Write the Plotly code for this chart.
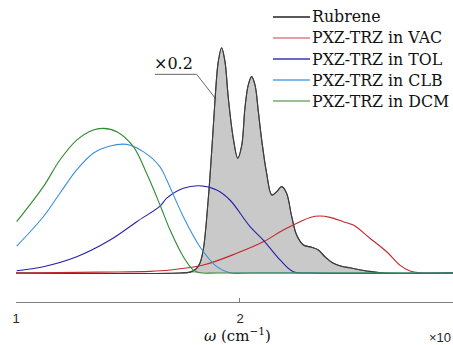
import plotly.graph_objects as go

# wavenumber in units of 10^4 cm^-1, intensities normalised (Rubrene shown x0.2)
rub_x = [1.00, 1.732, 1.777, 1.804, 1.821, 1.836, 1.858, 1.874, 1.888, 1.903, 1.918, 1.933, 1.948,
         1.970, 1.990, 2.008, 2.022, 2.037, 2.052, 2.067, 2.082, 2.097, 2.119, 2.142, 2.164, 2.186,
         2.208, 2.231, 2.253, 2.283, 2.320, 2.350, 2.379, 2.417, 2.461, 2.491, 2.566, 2.640, 2.951]
rub_y = [0.0, 0.0, 0.004, 0.018, 0.043, 0.102, 0.323, 0.544, 0.758, 0.935, 0.997, 0.935, 0.773,
         0.596, 0.508, 0.566, 0.729, 0.832, 0.869, 0.832, 0.714, 0.588, 0.441, 0.345, 0.360, 0.382,
         0.353, 0.249, 0.168, 0.124, 0.114, 0.102, 0.072, 0.043, 0.028, 0.023, 0.009, 0.0, 0.0]

vac_x = [1.00, 1.375, 1.598, 1.688, 1.836, 1.985, 2.104, 2.193, 2.268, 2.313, 2.357, 2.402, 2.461,
         2.506, 2.580, 2.655, 2.714, 2.759, 2.804, 2.951]
vac_y = [0.0, 0.004, 0.007, 0.013, 0.035, 0.087, 0.138, 0.190, 0.227, 0.246, 0.252, 0.246, 0.227,
         0.212, 0.154, 0.094, 0.035, 0.009, 0.001, 0.0]

tol_x = [1.003, 1.122, 1.271, 1.420, 1.539, 1.643, 1.673, 1.747, 1.821, 1.896, 1.955, 2.045, 2.104,
         2.179, 2.238, 2.313, 2.951]
tol_y = [0.010, 0.028, 0.072, 0.146, 0.227, 0.296, 0.331, 0.375, 0.386, 0.367, 0.323, 0.205, 0.146,
         0.058, 0.006, 0.0, 0.0]

clb_x = [1.003, 1.122, 1.196, 1.271, 1.345, 1.420, 1.494, 1.568, 1.643, 1.673, 1.747, 1.821, 1.896,
         1.955, 2.05, 2.951]
clb_y = [0.119, 0.249, 0.353, 0.456, 0.530, 0.562, 0.569, 0.537, 0.470, 0.412, 0.249, 0.116, 0.028,
         0.001, 0.0, 0.0]

dcm_x = [1.003, 1.122, 1.196, 1.271, 1.345, 1.390, 1.450, 1.524, 1.583, 1.643, 1.688, 1.747, 1.792,
         1.821, 1.90, 2.951]
dcm_y = [0.227, 0.382, 0.500, 0.588, 0.633, 0.640, 0.625, 0.559, 0.441, 0.301, 0.190, 0.072, 0.013,
         0.001, 0.0, 0.0]

names = ["Rubrene", "PXZ-TRZ in VAC", "PXZ-TRZ in TOL", "PXZ-TRZ in CLB", "PXZ-TRZ in DCM"]
colors = ["#3c3c3c", "#c4262b", "#2424a8", "#3a8fdc", "#2e8b2e"]
legend_colors = ["#222222", "#d98080", "#3838b0", "#5aa0e0", "#6cb06c"]
tick_vals = [1, 2]
tick_text = ["1", "2"]
x_range = [1.0, 2.951]
y_range = [-0.1283, 1.208]

SERIF = "DejaVu Serif"
SANS = "Liberation Sans"
W, H = 453, 345
ML, MR, MT, MB = 16, 0, 0, 43
PW, PH = W - ML - MR, H - MT - MB


def px(xpage):
    return (xpage - ML) / PW


def py(ypage):
    return 1 - (ypage - MT) / PH


fig = go.Figure()
fig.add_trace(go.Scatter(x=rub_x, y=rub_y, mode="lines", fill="tozeroy", fillcolor="#c9c9c9",
                         line=dict(color="#555555", width=1.1, shape="spline", smoothing=1.0),
                         showlegend=False, hoverinfo="skip"))
series = [(rub_x, rub_y), (vac_x, vac_y), (tol_x, tol_y), (clb_x, clb_y), (dcm_x, dcm_y)]
for (xs, ys), n, c in zip(series, names, colors):
    fig.add_trace(go.Scatter(x=xs, y=ys, mode="lines", name=n, showlegend=False,
                             line=dict(color=c, width=1.1, shape="spline", smoothing=1.0)))

# legend drawn as annotations (keeps the original compact row spacing)
for i, (n, c) in enumerate(zip(names, legend_colors)):
    yy = py(17 + 21 * i)
    fig.add_shape(type="line", xref="paper", yref="paper", x0=px(273), x1=px(310), y0=yy, y1=yy,
                  line=dict(color=c, width=1.3))
    fig.add_annotation(x=px(310), y=yy, xref="paper", yref="paper", xanchor="left", yanchor="middle",
                       text=n, showarrow=False, font=dict(family=SERIF, size=15.8, color="#111111"))

# x0.2 label with leader line
fig.add_annotation(x=1.705, y=0.929, xref="x", yref="y", xanchor="center", yanchor="middle",
                   text="×0.2", showarrow=False,
                   font=dict(family=SERIF, size=16, color="#111111"))
fig.add_shape(type="path", xref="x", yref="y",
              path="M 1.6205 0.879 L 1.8067 0.879 L 1.8929 0.769",
              line=dict(color="#404040", width=0.8))

fig.add_annotation(x=px(237), y=py(334.5), xref="paper", yref="paper", xanchor="center", yanchor="middle",
                   text="<i>ω</i> (cm<sup>−1</sup>)", showarrow=False,
                   font=dict(family=SERIF, size=15, color="#111111"))
fig.add_annotation(x=px(427), y=py(337), xref="paper", yref="paper", xanchor="left", yanchor="middle",
                   text="×10", showarrow=False,
                   font=dict(family=SANS, size=13, color="#262626"))

fig.update_layout(
    width=W, height=H,
    margin=dict(l=ML, r=MR, t=MT, b=MB, autoexpand=False),
    paper_bgcolor="white", plot_bgcolor="white",
    showlegend=False,
    xaxis=dict(range=x_range, tickvals=tick_vals, ticktext=tick_text, showgrid=False,
               zeroline=False, showline=True, linecolor="#7f7f7f", linewidth=1,
               ticks="inside", ticklen=4, tickcolor="#7f7f7f", ticklabelstandoff=4,
               tickfont=dict(family=SANS, size=13, color="#262626")),
    yaxis=dict(range=y_range, visible=False, showgrid=False, zeroline=False),
)

fig.write_html("out.html", config={"displayModeBar": False},
               post_script="document.body.style.margin='0';document.body.style.overflow='hidden';")
